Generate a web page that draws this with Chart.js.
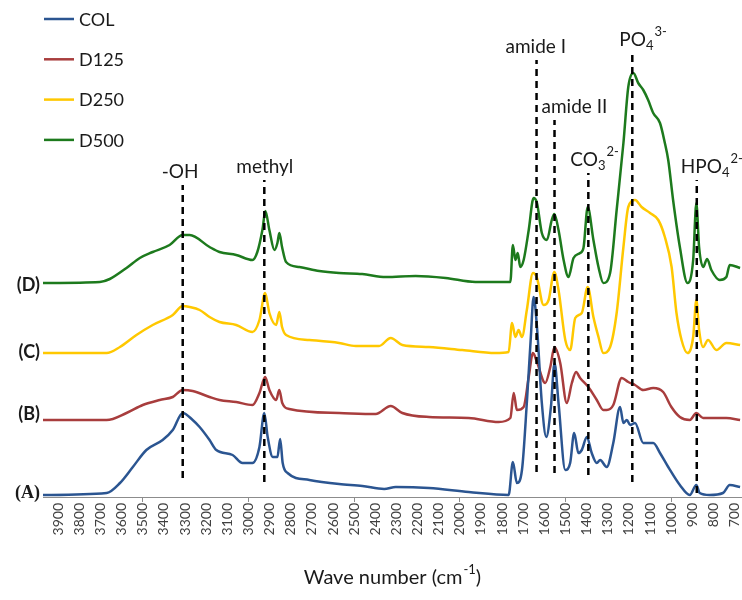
<!DOCTYPE html>
<html>
<head>
<meta charset="utf-8">
<script src="https://cdn.jsdelivr.net/npm/chart.js@4.4.1/dist/chart.umd.min.js"></script>
<style>
  body { margin:0; background:#fff; }
  #wrap { width:742px; height:600px; }
</style>
</head>
<body>
<div id="wrap"><canvas id="ftir" width="742" height="600"></canvas></div>
<script>
// FTIR spectra, stacked (offsets already in the values), arbitrary units
var colWave = [3972,3671,3608,3547,3483,3406,3358,3311,3264,3231,3184,3152,3075,3028,2981,2948,2925,2909,2885,2863,2850,2838,2815,2712,2571,2461,2358,2303,2146,1958,1769,1749,1730,1706,1683,1664,1651,1635,1612,1591,1569,1552,1533,1501,1478,1459,1439,1423,1399,1376,1352,1336,1305,1274,1242,1226,1210,1194,1171,1132,1085,1053,1014,959,912,881,865,818,755,723,674];
var colAbs = [2,4,14,30,47,57,67,84,77,70,57,47,42,34,34,50,84,60,40,40,58,34,24,17,13,11,8,10,9,5,2,35,14,27,94,160,200,170,94,60,90,134,94,27,34,64,44,47,60,44,34,37,30,54,90,74,77,72,74,54,54,44,30,12,2,12,4,2,4,12,10];

var d125Wave = [3972,3671,3577,3500,3420,3358,3311,3264,3184,3137,3058,2981,2948,2921,2901,2869,2854,2840,2807,2571,2398,2327,2272,2146,1958,1816,1761,1745,1730,1698,1674,1654,1635,1596,1572,1552,1525,1494,1470,1450,1431,1392,1352,1321,1305,1274,1234,1203,1171,1132,1085,1038,999,959,912,881,849,739,674];
var d125Abs = [77,77,84,92,97,100,107,106,100,97,95,92,104,120,107,97,107,94,88,84,83,91,84,80,79,75,79,104,87,90,120,144,135,114,130,150,134,94,114,125,119,110,97,87,87,92,119,115,112,107,109,105,90,80,77,84,79,79,77];

var d250Wave = [3972,3671,3608,3530,3453,3358,3311,3278,3231,3184,3137,3058,2981,2948,2921,2901,2869,2854,2841,2822,2712,2571,2492,2382,2327,2272,2146,1989,1832,1769,1753,1737,1722,1706,1683,1654,1635,1604,1580,1553,1533,1501,1478,1454,1423,1395,1368,1344,1321,1289,1258,1226,1203,1171,1140,1100,1061,1030,998,975,951,923,896,881,868,849,826,786,739,674];
var d250Abs = [144,144,150,162,172,182,191,190,187,180,175,172,165,177,204,184,172,185,170,162,157,154,151,151,159,152,150,147,144,145,174,160,167,160,187,224,219,192,197,225,207,157,147,179,184,210,180,160,144,150,184,250,290,297,290,284,277,260,230,184,157,144,160,197,167,150,157,147,154,152];

var d500Wave = [3972,3703,3656,3577,3514,3453,3373,3311,3278,3184,3137,3058,2981,2958,2934,2920,2901,2877,2863,2854,2841,2822,2759,2665,2571,2462,2350,2209,2067,1926,1840,1761,1749,1737,1726,1714,1698,1674,1651,1635,1612,1588,1565,1553,1533,1509,1486,1462,1431,1415,1395,1368,1344,1321,1289,1258,1226,1203,1179,1156,1132,1109,1085,1053,1030,1014,991,959,923,896,881,868,849,830,810,770,739,723,674];
var d500Abs = [214,215,218,229,239,245,252,262,262,250,245,242,237,245,267,286,267,247,254,264,250,235,230,226,224,223,220,221,219,215,215,215,252,237,244,230,237,267,299,294,264,257,277,283,267,237,220,239,244,249,290,257,230,214,224,287,354,410,424,414,407,397,384,374,354,337,297,250,214,237,294,250,230,238,227,217,220,232,229];

var seriesNames = ['COL', 'D125', 'D250', 'D500'];
var traceLabels = ['(A)', '(B)', '(C)', '(D)'];
var tickValues = [3900,3800,3700,3600,3500,3400,3300,3200,3100,3000,2900,2800,2700,2600,2500,2400,2300,2200,2100,2000,1900,1800,1700,1600,1500,1400,1300,1200,1100,1000,900,800,700];

// band markers: name, subscript, superscript, wave number, dashed line top / bottom
var bandName = ['-OH', 'methyl', 'amide I', 'amide II', 'CO', 'PO', 'HPO'];
var bandSub = ['', '', '', '', '3', '4', '4'];
var bandSup = ['', '', '', '', '2-', '3-', '2-'];
var bandWave = [3311, 2925, 1637, 1552, 1392, 1184, 879];
var bandTop = [312, 317, 437, 377, 324, 444, 317];
var bandBottom = [19, 15, 25, 24, 22, 15, 4];

var colors = ['#2b5591', '#a83d3d', '#ffc800', '#1d7a1d'];
var waves = [colWave, d125Wave, d250Wave, d500Wave];
var absArr = [colAbs, d125Abs, d250Abs, d500Abs];

function pairs(xs, ys) {
  return xs.map(function (x, i) { return { x: x, y: ys[i] }; });
}

var datasets = [];
for (var i = 0; i < bandWave.length; i++) {
  datasets.push({
    label: 'band ' + bandName[i],
    data: [{ x: bandWave[i], y: bandBottom[i] }, { x: bandWave[i], y: bandTop[i] }],
    borderColor: '#000',
    borderWidth: 2.5,
    borderDash: [7, 5],
    pointRadius: 0,
    order: 0
  });
}
for (var s = 0; s < seriesNames.length; s++) {
  datasets.push({
    label: seriesNames[s],
    data: pairs(waves[s], absArr[s]),
    borderColor: colors[s],
    borderWidth: 2.5,
    pointRadius: 0,
    cubicInterpolationMode: 'monotone',
    order: 1
  });
}

// x offsets of the band labels relative to their line (px)
var labelShift = [-21, -28, -31, -13, -18, -13, -16];

function richText(ctx, x, y, base, sub, sup, size) {
  ctx.font = size + 'px Lato';
  ctx.fillText(base, x, y);
  var w = ctx.measureText(base).width;
  var small = Math.round(size * 0.68);
  ctx.font = small + 'px Lato';
  if (sub) {
    ctx.fillText(sub, x + w, y + 6);
    w += ctx.measureText(sub).width;
  }
  if (sup) {
    ctx.fillText(sup, x + w + 1, y - 8);
  }
}

var decor = {
  id: 'decor',
  afterDraw: function (chart) {
    var ctx = chart.ctx, xs = chart.scales.x, ys = chart.scales.y;
    ctx.save();
    ctx.fillStyle = '#1a1a1a';
    ctx.textBaseline = 'middle';
    ctx.textAlign = 'left';

    // legend
    for (var k = 0; k < seriesNames.length; k++) {
      var ly = 19 + k * 40.3;
      ctx.strokeStyle = colors[k];
      ctx.lineWidth = 2.5;
      ctx.beginPath();
      ctx.moveTo(44, ly);
      ctx.lineTo(74, ly);
      ctx.stroke();
      ctx.font = '18px Lato';
      ctx.fillText(seriesNames[k], 79, ly + 1);
    }

    // band labels
    for (var b = 0; b < bandName.length; b++) {
      var bx = xs.getPixelForValue(bandWave[b]) + labelShift[b];
      var by = ys.getPixelForValue(bandTop[b]) - 13;
      richText(ctx, bx, by, bandName[b], bandSub[b], bandSup[b], 19);
    }

    // trace labels
    var traceY = [493, 414, 352, 285];
    ctx.textAlign = 'right';
    for (var t = 0; t < traceLabels.length; t++) {
      ctx.font = t === 0 ? 'bold 18px "Liberation Serif"' : 'bold 18px Lato';
      ctx.fillText(traceLabels[t], 40, traceY[t]);
    }

    // axis title
    ctx.textAlign = 'left';
    var main = 'Wave number (cm';
    ctx.font = '20px Lato';
    var w1 = ctx.measureText(main).width;
    ctx.font = '13px Lato';
    var w2 = ctx.measureText('-1').width;
    ctx.font = '20px Lato';
    var w3 = ctx.measureText(')').width;
    var cx = (chart.chartArea.left + chart.chartArea.right) / 2;
    var tx = cx - (w1 + w2 + w3 + 1) / 2;
    var ty = 578;
    ctx.fillText(main, tx, ty);
    ctx.font = '13px Lato';
    ctx.fillText('-1', tx + w1 + 1, ty - 8);
    ctx.font = '20px Lato';
    ctx.fillText(')', tx + w1 + w2 + 1, ty);
    ctx.restore();
  }
};

Chart.defaults.font.family = 'Lato';

new Chart(document.getElementById('ftir'), {
  type: 'line',
  data: { datasets: datasets },
  options: {
    responsive: false,
    animation: false,
    layout: { padding: { left: 43, right: 0, top: 0, bottom: 0 } },
    plugins: { legend: { display: false }, tooltip: { enabled: false } },
    scales: {
      x: {
        type: 'linear',
        reverse: true,
        min: 665,
        max: 3972,
        afterBuildTicks: function (scale) {
          scale.ticks = tickValues.map(function (v) { return { value: v }; });
        },
        afterFit: function (scale) {
          scale.height = 103;
          scale.paddingLeft = 0;
          scale.paddingRight = 0;
        },
        border: { display: true, color: '#8c8c8c', width: 1 },
        grid: {
          drawOnChartArea: false,
          drawTicks: true,
          tickLength: 5,
          color: function (c) {
            return c.tick && c.tick.value % 500 === 0 ? '#8c8c8c' : 'rgba(0,0,0,0)';
          }
        },
        ticks: {
          autoSkip: false,
          minRotation: 90,
          maxRotation: 90,
          padding: 1,
          color: '#404040',
          font: { family: 'Lato', size: 14 },
          callback: function (v) { return String(v); }
        }
      },
      y: { display: false, min: 0, max: 497 }
    }
  },
  plugins: [decor]
});
</script>
</body>
</html>
